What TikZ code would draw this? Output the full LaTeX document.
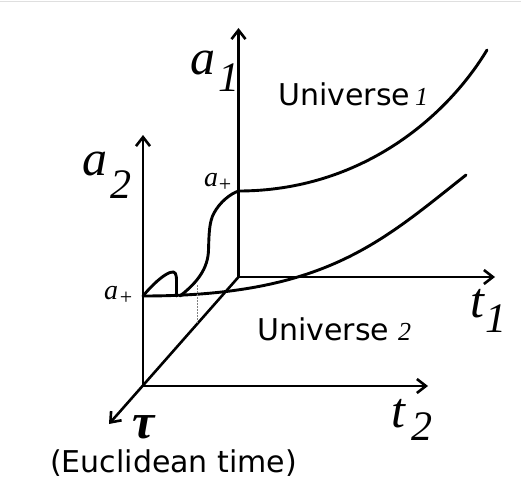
\documentclass[tikz,border=0pt]{standalone}
\usepackage{fontspec}
\setmainfont{Liberation Serif}
\newfontfamily\djv{DejaVu Sans}
\usetikzlibrary{arrows.meta}
\begin{document}
\begin{tikzpicture}[x=1pt,y=-1pt,
  axis/.style={line width=2.6pt, -{Straight Barb[length=9pt,width=14pt]}},
  curve/.style={line width=2.9pt, line cap=round},
  lbl/.style={inner sep=0pt, anchor=base west},
  big/.style={lbl, font=\fontsize{50}{60}\selectfont\itshape},
  sub/.style={lbl, font=\fontsize{42}{50}\selectfont\itshape},
  small/.style={lbl, font=\fontsize{28}{34}\selectfont\itshape},
  plus/.style={inner sep=0pt, anchor=center, font=\fontsize{22}{26}\selectfont},
  taulbl/.style={lbl, font=\fontsize{50}{60}\selectfont\bfseries\itshape},
  uni/.style={lbl, font=\fontsize{30}{36}\selectfont\djv},
  unum/.style={lbl, font=\fontsize{26}{31}\selectfont\itshape},
  guide/.style={gray, line width=0.8pt, dash pattern=on 1.5pt off 1.5pt}
]
\useasboundingbox (0,0) rectangle (521,500);
\draw[gray!25, line width=1pt] (0,1.5) -- (521,1.5);

% axes
\coordinate (O1) at (238.5,277);
\coordinate (A1) at (238.5,28);
\coordinate (T1) at (495,277);
\coordinate (O2) at (143,386);
\coordinate (A2) at (143,135);
\coordinate (T2) at (428,386);
\coordinate (TAU) at (109,424);
\draw[axis] (O1) -- (A1);
\draw[axis] (O1) -- (T1);
\draw[axis] (O2) -- (A2);
\draw[axis] (O2) -- (T2);
\draw[axis] (O1) -- (TAU);

% curves
\coordinate (P1) at (238.5,191);
\coordinate (P2) at (143,296);
\coordinate (U1) at (487,50);
\coordinate (U2) at (466,175);
\coordinate (B1) at (176.5,296);
\coordinate (S0) at (180,296);
\draw[curve] (P1) .. controls (360,191) and (446,118) .. (U1);
\draw[curve] (P2) .. controls (324,296) and (380,243) .. (U2);
\draw[curve] (P2) .. controls (152,285) and (163,275) .. (170,272.5)
  .. controls (175.5,270.5) and (176.5,274) .. (176.5,281) -- (B1);
\draw[curve] (S0) .. controls (198,282) and (208,268) .. (208.5,250)
  .. controls (209,235) and (209,222) .. (214,213)
  .. controls (220,202) and (230,194) .. (P1);

% guide
\coordinate (D1) at (197,285);
\coordinate (D2) at (197,324);
\draw[guide] (D1) -- (D2);

% labels
\node[big] (a1a) at (190,75) {a};
\node[sub] (a1s) at (218,92) {1};
\node[big] (a2a) at (82,175) {a};
\node[sub] (a2s) at (110,198) {2};
\node[big] (t1t) at (470,317) {t};
\node[sub] (t1s) at (485,332) {1};
\node[big] (t2t) at (391,427) {t};
\node[sub] (t2s) at (411,440) {2};
\node[taulbl] (tau) at (132,438) {τ};
\node[small] (ap1) at (204,186) {a};
\node[plus] (pp1) at (225,185) {+};
\node[small] (ap2) at (104,299) {a};
\node[plus] (pp2) at (126,298.5) {+};
\node[uni] (u1) at (278,106) {Universe};
\node[unum] (u1n) at (415,106) {1};
\node[uni] (u2) at (257,340) {Universe};
\node[unum] (u2n) at (398,340) {2};
\node[uni] (eu) at (50,472) {(Euclidean time)};
\end{tikzpicture}
\end{document}
